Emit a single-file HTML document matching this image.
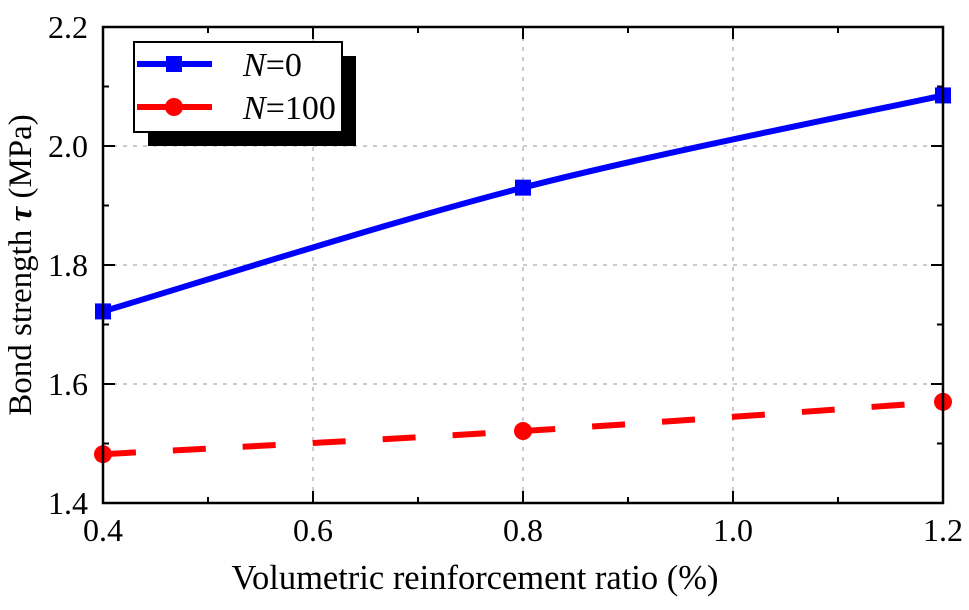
<!DOCTYPE html>
<html><head><meta charset="utf-8"><style>
body{margin:0;background:#fff}
svg text, svg tspan{font-family:"Liberation Serif","Times New Roman",serif;fill:#000}
</style></head><body>
<svg id="c" width="969" height="605" viewBox="0 0 969 605" font-family="Liberation Serif, serif"></svg>
<script>
const categories=[0.4,0.8,1.2];
const seriesN0=[1.722,1.930,2.085];
const seriesN100=[1.482,1.521,1.570];
const xTicks=[0.4,0.6,0.8,1.0,1.2];
const yTicks=[1.4,1.6,1.8,2.0,2.2];
const L=103,R=943,T=27,B=503;
const xs=v=>L+(v-0.4)/0.8*(R-L);
const ys=v=>B-(v-1.4)/0.8*(B-T);
const svg=document.getElementById('c');
const NS='http://www.w3.org/2000/svg';
function mk(t,a,p){const e=document.createElementNS(NS,t);for(const k in a)e.setAttribute(k,a[k]);(p||svg).appendChild(e);return e;}
const grid=mk('g',{});


xTicks.slice(1,-1).forEach(v=>mk('line',{x1:xs(v),x2:xs(v),y1:T,y2:B,stroke:'#bbb','stroke-width':1.5,'stroke-dasharray':'4 6'},grid));
yTicks.slice(1,-1).forEach(v=>mk('line',{x1:L,x2:R,y1:ys(v),y2:ys(v),stroke:'#bbb','stroke-width':1.5,'stroke-dasharray':'4 6'},grid));
const ax=mk('g',{stroke:'#000','stroke-width':2});


for(let i=0;i<xTicks.length;i++){const v=xTicks[i];
 [B,T].forEach(y=>mk('line',{x1:xs(v),x2:xs(v),y1:y,y2:y===B?y-12:y+12},ax));
 if(i<xTicks.length-1){const m=(v+xTicks[i+1])/2;[B,T].forEach(y=>mk('line',{x1:xs(m),x2:xs(m),y1:y,y2:y===B?y-6:y+6},ax));}}
for(let i=0;i<yTicks.length;i++){const v=yTicks[i];
 [L,R].forEach(x=>mk('line',{y1:ys(v),y2:ys(v),x1:x,x2:x===L?x+12:x-12},ax));
 if(i<yTicks.length-1){const m=(v+yTicks[i+1])/2;[L,R].forEach(x=>mk('line',{y1:ys(m),y2:ys(m),x1:x,x2:x===L?x+6:x-6},ax));}}
xTicks.forEach(v=>{const t=mk('text',{x:xs(v),y:541,'font-size':32,'text-anchor':'middle'});t.textContent=v.toFixed(1);
 });
yTicks.forEach(v=>{const t=mk('text',{x:88,y:ys(v)+11,'font-size':32,'text-anchor':'end'});t.textContent=v.toFixed(1);
 });
const xt=mk('text',{x:475,y:589,'font-size':34.5,'text-anchor':'middle'});xt.textContent='Volumetric reinforcement ratio (%)';

const yt=mk('text',{x:0,y:0,'font-size':33,'text-anchor':'middle',transform:`translate(31,${(T+B)/2}) rotate(-90)`});
yt.innerHTML='Bond strength <tspan font-style="italic" font-weight="bold">τ</tspan> (MPa)';

function path(vals){const p=categories.map((c,i)=>[xs(c),ys(vals[i])]);let d=`M${p[0][0]},${p[0][1]}`;
 for(let i=0;i<p.length-1;i++){const p0=p[Math.max(0,i-1)],p1=p[i],p2=p[i+1],p3=p[Math.min(p.length-1,i+2)];
 d+=` C${p1[0]+(p2[0]-p0[0])/6},${p1[1]+(p2[1]-p0[1])/6} ${p2[0]-(p3[0]-p1[0])/6},${p2[1]-(p3[1]-p1[1])/6} ${p2[0]},${p2[1]}`;}return d;}
const l1=mk('path',{d:path(seriesN0),fill:'none',stroke:'#0000ff','stroke-width':6});

const l2=mk('path',{d:path(seriesN100),fill:'none',stroke:'#ff0000','stroke-width':6,'stroke-dasharray':'33 37'});

categories.forEach((c,i)=>{const s=mk('rect',{x:xs(c)-8,y:ys(seriesN0[i])-8,width:16,height:16,fill:'#0000ff'});
 
 const r=mk('circle',{cx:xs(c),cy:ys(seriesN100[i]),r:9,fill:'#ff0000'});
 });
const fr=mk('rect',{x:L,y:T,width:R-L,height:B-T,fill:'none',stroke:'#000','stroke-width':2.5});

const lg=mk('g',{});

mk('rect',{x:148,y:56,width:208,height:90,fill:'#000'},lg);
mk('rect',{x:134,y:42,width:208,height:90,fill:'#fff',stroke:'#000','stroke-width':2},lg);
mk('line',{x1:137,x2:212,y1:64,y2:64,stroke:'#0000ff','stroke-width':6},lg);
mk('rect',{x:166,y:56,width:16,height:16,fill:'#0000ff'},lg);
mk('line',{x1:137,x2:212,y1:107,y2:107,stroke:'#ff0000','stroke-width':6},lg);
mk('circle',{cx:174,cy:107,r:9,fill:'#ff0000'},lg);
const t1=mk('text',{x:243,y:76,'font-size':34,'font-family':'Liberation Serif, serif'},lg);
const n1=mk('tspan',{'font-style':'italic'},t1);n1.textContent='N';
const e1=mk('tspan',{},t1);e1.textContent='=0';

const t2=mk('text',{x:243,y:119,'font-size':34,'font-family':'Liberation Serif, serif'},lg);
const n2=mk('tspan',{'font-style':'italic'},t2);n2.textContent='N';
const e2=mk('tspan',{},t2);e2.textContent='=100';

</script>
</body></html>
